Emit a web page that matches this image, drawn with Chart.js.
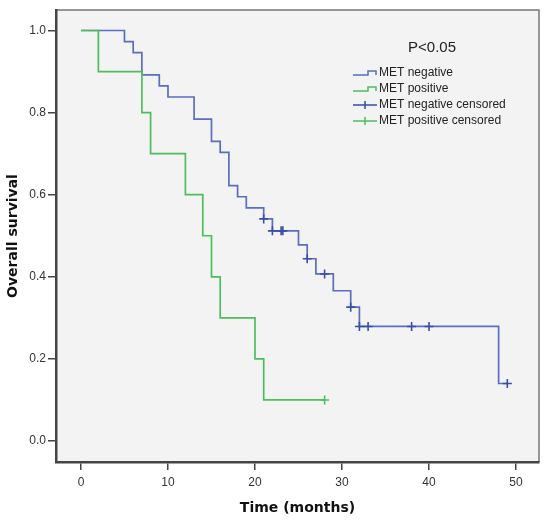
<!DOCTYPE html>
<html><head><meta charset="utf-8">
<script src="https://cdn.jsdelivr.net/npm/chart.js@4.4.0/dist/chart.umd.min.js"></script>
<style>html,body{margin:0;padding:0;background:#fff;} #wrap{width:550px;height:522px;}</style>
</head><body><div id="wrap"><canvas id="c" width="550" height="522"></canvas></div>
<script>
// Kaplan-Meier steps
const negTimes = [0, 5, 6, 7, 9, 10, 13, 15, 16, 17, 18, 19, 21, 22, 25, 26, 27, 29, 31, 32, 48, 49];
const negSurv  = [1, 0.973, 0.946, 0.892, 0.865, 0.838, 0.784, 0.730, 0.703, 0.622, 0.595, 0.568, 0.541, 0.512, 0.478, 0.444, 0.407, 0.366, 0.326, 0.279, 0.140, 0.140];
const posTimes = [0, 2, 7, 8, 12, 14, 15, 16, 20, 21, 28];
const posSurv  = [1, 0.9, 0.8, 0.7, 0.6, 0.5, 0.4, 0.3, 0.2, 0.1, 0.1];
const negCensTimes = [21, 22, 23, 23.2, 26, 28, 31, 32, 33, 38, 40, 49];
const negCensSurv  = [0.541, 0.512, 0.512, 0.512, 0.444, 0.407, 0.326, 0.279, 0.279, 0.279, 0.279, 0.140];
const posCensTimes = [28];
const posCensSurv  = [0.1];
const xTicks = [0, 10, 20, 30, 40, 50];
const yTicks = [0, 0.2, 0.4, 0.6, 0.8, 1.0];
const seriesLabels = ['MET negative', 'MET positive', 'MET negative censored', 'MET positive censored'];
const pValueText = 'P<0.05';
const xTitle = 'Time (months)';
const yTitle = 'Overall survival';

const BLUE = '#5a6ebf', BLUE_DARK = '#3a4ea6', GREEN = '#4fbd5e';
const pts = (xs, ys) => xs.map((x, i) => ({x: x, y: ys[i]}));
const FONT = '"Liberation Sans", Arial, sans-serif';

const framePlugin = {
  id: 'frame',
  beforeDraw(chart) {
    const {ctx, chartArea: a} = chart;
    ctx.save();
    ctx.fillStyle = '#f3f3f3';
    ctx.fillRect(a.left, a.top, a.right - a.left, a.bottom - a.top);
    ctx.strokeStyle = '#777';
    ctx.lineWidth = 1.5;
    ctx.beginPath();
    ctx.moveTo(a.left, a.top); ctx.lineTo(a.right, a.top); ctx.lineTo(a.right, a.bottom);
    ctx.stroke();
    ctx.restore();
  }
};

const legendPlugin = {
  id: 'kmLegend',
  afterDraw(chart) {
    const ctx = chart.ctx;
    ctx.save();
    ctx.fillStyle = '#222';
    ctx.font = '15px ' + FONT;
    ctx.textAlign = 'center';
    ctx.textBaseline = 'middle';
    ctx.fillText(pValueText, 432, 48);
    ctx.font = '12px ' + FONT;
    ctx.textAlign = 'left';
    const rows = [73, 89, 105, 121];
    const x0 = 353;
    chart.data.datasets.forEach((ds, i) => {
      const y = rows[i];
      ctx.strokeStyle = ds.legendColor;
      ctx.lineWidth = 1.5;
      ctx.beginPath();
      if (ds.censor) {
        ctx.moveTo(x0, y); ctx.lineTo(x0 + 24, y);
        ctx.moveTo(x0 + 12, y - 4); ctx.lineTo(x0 + 12, y + 4);
      } else {
        ctx.moveTo(x0, y + 2); ctx.lineTo(x0 + 15, y + 2); ctx.lineTo(x0 + 15, y - 2);
        ctx.lineTo(x0 + 23, y - 2); ctx.lineTo(x0 + 23, y + 2);
      }
      ctx.stroke();
      ctx.fillStyle = '#222';
      ctx.fillText(ds.label, x0 + 26, y);
    });
    ctx.restore();
  }
};

new Chart(document.getElementById('c'), {
  type: 'line',
  data: {
    datasets: [
      {label: seriesLabels[0], data: pts(negTimes, negSurv), stepped: 'before', borderColor: BLUE, borderWidth: 1.7,
       pointRadius: 0, fill: false, order: 3, legendColor: BLUE},
      {label: seriesLabels[1], data: pts(posTimes, posSurv), stepped: 'before', borderColor: GREEN, borderWidth: 1.7,
       pointRadius: 0, fill: false, order: 2, legendColor: GREEN},
      {label: seriesLabels[2], data: pts(negCensTimes, negCensSurv), showLine: false, pointStyle: 'cross',
       pointRadius: 4.5, pointBorderWidth: 1.6, pointBorderColor: BLUE_DARK, borderColor: BLUE_DARK, order: 0, censor: true, legendColor: BLUE_DARK},
      {label: seriesLabels[3], data: pts(posCensTimes, posCensSurv), showLine: false, pointStyle: 'cross',
       pointRadius: 4.5, pointBorderWidth: 1.6, pointBorderColor: GREEN, borderColor: GREEN, order: 1, censor: true, legendColor: GREEN}
    ]
  },
  options: {
    responsive: false,
    animation: false,
    events: [],
    layout: {padding: {left: 0, top: 10, right: 11, bottom: 0}},
    plugins: {legend: {display: false}, tooltip: {enabled: false}},
    scales: {
      x: {
        type: 'linear', min: -2.87, max: 52.64,
        afterBuildTicks: s => { s.ticks = xTicks.map(v => ({value: v})); },
        afterFit: s => { s.height = 60; },
        grid: {drawOnChartArea: false, drawTicks: true, tickLength: 8, color: '#444', lineWidth: 1.5},
        border: {display: true, color: '#444', width: 2.5},
        ticks: {color: '#333', font: {family: FONT, size: 12}, padding: 5},
        title: {display: true, text: xTitle, color: '#111', font: {family: '"DejaVu Sans", Verdana, sans-serif', size: 14, weight: 'bold'}, padding: {top: 2, bottom: 5}}
      },
      y: {
        type: 'linear', min: -0.0512, max: 1.05,
        afterBuildTicks: s => { s.ticks = yTicks.map(v => ({value: v})); },
        afterFit: s => { s.width = 56; },
        grid: {drawOnChartArea: false, drawTicks: true, tickLength: 8, color: '#444', lineWidth: 1.5},
        border: {display: true, color: '#444', width: 2.5},
        ticks: {color: '#333', font: {family: FONT, size: 12}, padding: 2, callback: v => v.toFixed(1)},
        title: {display: true, text: yTitle, color: '#111', font: {family: '"DejaVu Sans", Verdana, sans-serif', size: 14, weight: 'bold'}, padding: {top: 5, bottom: 2}}
      }
    }
  },
  plugins: [framePlugin, legendPlugin]
});
</script>
</body></html>
